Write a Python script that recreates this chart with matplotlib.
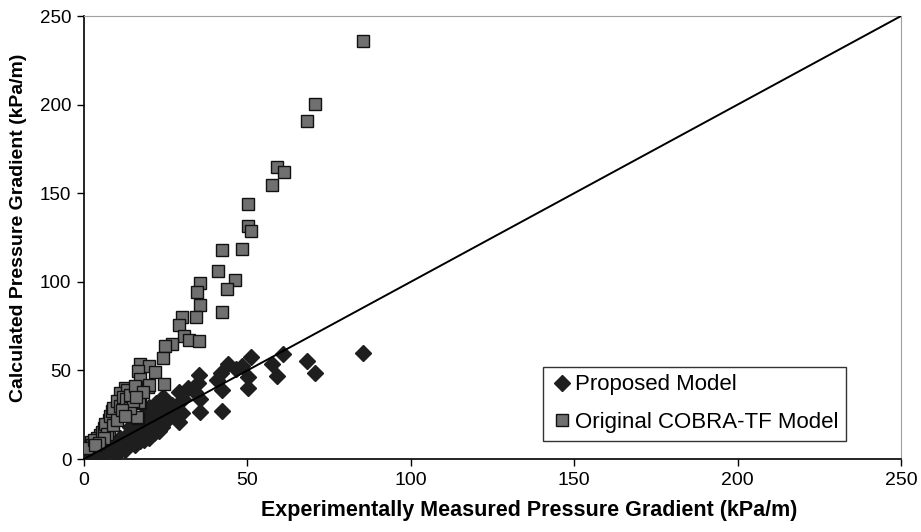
import numpy as np
import matplotlib
matplotlib.use('Agg')
import matplotlib.pyplot as plt

plt.rcParams['font.family'] = ['Liberation Sans', 'DejaVu Sans']

# Proposed Model (diamonds)
proposed_x = [85.5, 68.1, 70.7, 61.0, 57.4, 59.2, 51.0, 44.0, 48.3, 46.4, 50.1, 50.1,
              42.0, 40.8, 42.1, 42.3, 35.3, 34.8, 31.8, 29.1, 34.0, 30.4, 35.5, 35.6,
              29.9, 27.3, 29.2, 24.1, 22.0, 20.5, 24.3, 26.3, 25.1,
              12.6, 10.6, 15.7, 18.3, 21.3, 23.9, 25.4, 22.9, 19.8, 26.9, 29.0, 17.2,
              14.7, 9.1, 7.0, 5.5, 3.0, 2.0, 4.0, 6.0, 8.0, 10.0, 12.0, 13.0, 15.0,
              16.0, 17.0, 18.0, 19.0, 20.0, 21.0, 11.0, 9.0, 14.0, 16.0, 22.0, 20.0,
              18.0, 23.0, 7.5, 5.0, 13.5, 11.5, 20.0, 17.0, 23.0]
proposed_y = [59.6, 55.3, 48.7, 59.3, 53.6, 47.0, 57.7, 53.8, 52.6, 50.7, 46.0, 39.9,
              48.3, 44.6, 39.0, 27.3, 47.6, 42.7, 40.0, 38.0, 38.0, 34.0, 34.0, 26.5,
              26.1, 24.8, 21.0, 34.8, 31.8, 29.0, 25.2, 25.4, 21.4,
              5.1, 4.1, 7.9, 10.7, 14.5, 18.2, 23.0, 23.0, 29.5, 30.5, 26.7, 20.1,
              16.4, 3.2, 5.1, 1.3, 0.5, 1.5, 3.0, 6.0, 7.0, 9.0, 11.0, 13.0, 12.0,
              15.0, 14.0, 18.0, 17.0, 20.0, 19.0, 12.0, 10.0, 18.0, 22.0, 26.0, 24.0,
              25.0, 28.0, 8.0, 4.0, 8.0, 7.5, 12.0, 10.0, 16.0]

# Original COBRA-TF Model (squares)
cobra_x = [85.5, 70.7, 68.1, 59.2, 61.2, 57.4, 50.1, 50.1, 51.0, 42.3, 48.4, 41.0,
           46.3, 43.9, 35.5, 34.5, 35.5, 42.1, 34.3, 30.1, 29.0, 30.5, 32.0, 35.3,
           27.0, 24.9, 24.3, 17.2, 19.9, 21.8, 16.6, 17.1, 19.5, 24.5, 12.7, 14.1,
           11.0, 11.8, 17.0, 10.0, 8.7, 16.6, 7.7, 4.9, 2.1, 1.3, 13.2, 16.9, 9.6,
           7.5, 16.2, 4.0, 2.4, 0.9, 19.8,
           3.0, 5.5, 6.0, 6.5, 7.0, 8.0, 8.5, 9.0, 10.0, 11.0, 12.0, 13.0, 14.0,
           15.0, 6.0, 4.5, 3.5, 9.0, 10.0, 11.5, 12.5, 14.0, 15.5, 18.0, 16.0]
cobra_y = [236.0, 200.5, 190.7, 165.0, 162.0, 154.5, 144.0, 131.7, 128.5, 118.0, 118.7, 106.0,
           100.8, 96.0, 99.5, 94.0, 87.0, 82.8, 80.0, 80.0, 75.7, 69.5, 67.0, 66.8,
           65.0, 63.8, 57.2, 53.8, 52.5, 48.9, 49.7, 45.0, 40.5, 42.5, 40.2, 38.0,
           37.0, 31.8, 31.8, 26.1, 21.0, 23.0, 16.4, 13.5, 9.8, 6.9, 39.0, 32.3, 25.8,
           22.0, 23.9, 11.7, 7.9, 6.0, 41.8,
           10.5, 15.0, 17.5, 19.5, 14.0, 24.0, 27.0, 29.0, 33.0, 30.0, 35.0, 34.0, 29.0,
           33.0, 12.0, 9.0, 8.0, 19.0, 22.0, 27.5, 24.0, 36.0, 41.0, 38.0, 35.0]

line_ends = [0, 250]
ticks = [0, 50, 100, 150, 200, 250]

fig = plt.figure(figsize=(9.21, 5.32), dpi=100)
ax = fig.add_axes([0.0912, 0.1372, 0.8871, 0.8327])

ax.plot(proposed_x, proposed_y, linestyle='none', marker='D', markersize=8,
        color='#1e1e1e', markeredgecolor='#1e1e1e', label='Proposed Model', zorder=3)
ax.plot(cobra_x, cobra_y, linestyle='none', marker='s', markersize=8.5,
        markerfacecolor='#707070', markeredgecolor='#111111', markeredgewidth=1.0,
        label='Original COBRA-TF Model', zorder=4)
ax.plot(line_ends, line_ends, color='black', linewidth=1.4, zorder=5)

ax.set_xlim(0, 250)
ax.set_ylim(0, 250)
ax.set_xticks(ticks)
ax.set_yticks(ticks)
ax.tick_params(direction='out', length=5, width=1, pad=4)
ax.tick_params(axis='x', labelsize=14)
ax.tick_params(axis='y', labelsize=13.5)

for side in ['top', 'right']:
    ax.spines[side].set_color('#a0a0a0')
for side in ['left', 'bottom']:
    ax.spines[side].set_color('black')
    ax.spines[side].set_linewidth(1.2)

ax.set_xlabel('Experimentally Measured Pressure Gradient (kPa/m)', fontsize=15.5,
              fontweight='bold')
ax.xaxis.set_label_coords(0.545, -0.093)
ax.set_ylabel('Calculated Pressure Gradient (kPa/m)', fontsize=14,
              fontweight='bold')
ax.yaxis.set_label_coords(-0.07, 0.521)

leg = ax.legend(loc='lower right', bbox_to_anchor=(0.933, 0.041), fontsize=16,
                frameon=True, fancybox=False, edgecolor='black', handletextpad=0.1,
                handlelength=1.0, borderpad=0.35, labelspacing=0.75, borderaxespad=0)
leg.get_frame().set_linewidth(1.0)

fig.savefig('out.png', dpi=100)
